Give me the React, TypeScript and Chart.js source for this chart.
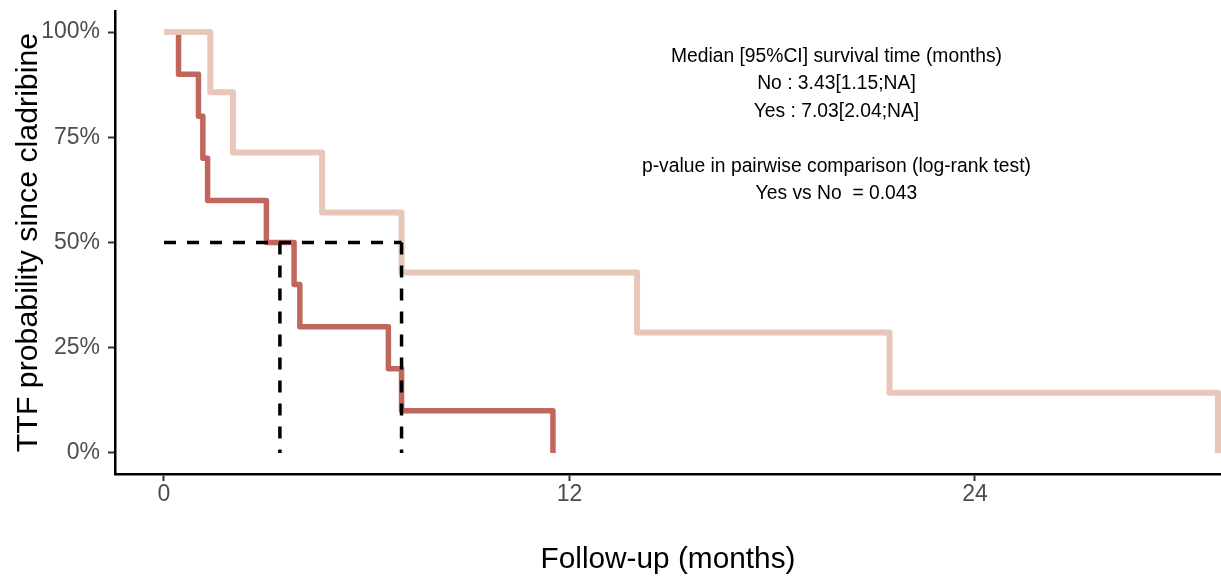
import React, { useEffect, useRef } from 'react';
import { Chart, registerables } from 'chart.js';

Chart.register(...registerables);

// Kaplan-Meier step data (event times in months, survival after the step)
const noTimes = [0, 0.43, 1.02, 1.15, 1.29, 3.03, 3.85, 4.02, 6.64, 7.03, 11.51];
const noSurv = [1, 0.9, 0.8, 0.7, 0.6, 0.5, 0.4, 0.3, 0.2, 0.1, 0];
const yesTimes = [0, 1.37, 2.04, 4.68, 7.03, 14.0, 21.47, 31.19];
const yesSurv = [1, 0.857, 0.714, 0.571, 0.429, 0.286, 0.143, 0];

// Median survival markers
const medianLevel = 0.5;
const medianTimes = [3.43, 7.03];

// Axis ticks
const xTickValues = [0, 12, 24];
const yTickValues = [0, 0.25, 0.5, 0.75, 1];

// Annotation text
const annotationLines = [
  'Median [95%CI] survival time (months)',
  'No : 3.43[1.15;NA]',
  'Yes : 7.03[2.04;NA]',
  '',
  'p-value in pairwise comparison (log-rank test)',
  'Yes vs No  = 0.043',
];
const annotationX = 19.9;
const annotationY = 0.929;

const FONT = '"Liberation Sans", Arial, sans-serif';

const annotationPlugin = {
  id: 'kmAnnotation',
  afterDraw(chart: any) {
    const { ctx, scales } = chart;
    const cx = scales.x.getPixelForValue(annotationX);
    const y0 = scales.y.getPixelForValue(annotationY);
    ctx.save();
    ctx.font = `19.3px ${FONT}`;
    ctx.fillStyle = '#000000';
    ctx.textAlign = 'center';
    ctx.textBaseline = 'alphabetic';
    annotationLines.forEach((t, i) => {
      if (t) ctx.fillText(t, cx, y0 + i * 27.4);
    });
    ctx.restore();
  },
};

export default function App() {
  const ref = useRef<HTMLCanvasElement | null>(null);

  useEffect(() => {
    if (!ref.current) return;
    const noData = noTimes.map((t, i) => ({ x: t, y: noSurv[i] }));
    const yesData = yesTimes.map((t, i) => ({ x: t, y: yesSurv[i] }));
    const maxMedian = Math.max(...medianTimes);
    const dashStyle = {
      borderColor: '#000000',
      borderWidth: 3.5,
      borderDash: [12, 11],
      borderCapStyle: 'butt' as const,
      pointRadius: 0,
      stepped: false,
      fill: false,
    };
    const chart = new Chart(ref.current, {
      type: 'line',
      data: {
        datasets: [
          {
            ...dashStyle,
            label: 'median-h',
            data: [
              { x: 0, y: medianLevel },
              { x: maxMedian, y: medianLevel },
            ],
          },
          ...medianTimes.map((t) => ({
            ...dashStyle,
            label: 'median-v',
            data: [
              { x: t, y: medianLevel },
              { x: t, y: 0 },
            ],
          })),
          {
            label: 'Yes',
            data: yesData,
            borderColor: '#E8C6BA',
            borderWidth: 6,
            stepped: true,
            pointRadius: 0,
            borderJoinStyle: 'round',
            borderCapStyle: 'butt',
            fill: false,
          },
          {
            label: 'No',
            data: noData,
            borderColor: '#C0665C',
            borderWidth: 5.5,
            stepped: true,
            pointRadius: 0,
            borderJoinStyle: 'round',
            borderCapStyle: 'butt',
            fill: false,
          },
        ],
      },
      options: {
        animation: false,
        responsive: false,
        maintainAspectRatio: false,
        layout: { padding: { top: 11, right: 0, left: 0, bottom: 0 } },
        plugins: {
          legend: { display: false },
          tooltip: { enabled: false },
        },
        scales: {
          x: {
            type: 'linear',
            min: -1.45,
            max: 31.28,
            afterBuildTicks: (scale: any) => {
              scale.ticks = xTickValues.map((v) => ({ value: v }));
            },
            afterFit: (scale: any) => {
              scale.height = 105;
              scale.paddingLeft = 0;
              scale.paddingRight = 0;
            },
            grid: {
              drawOnChartArea: false,
              drawTicks: true,
              tickLength: 7,
              tickWidth: 2,
              tickColor: '#333333',
            },
            border: { display: true, color: '#000000', width: 2.5 },
            ticks: {
              color: '#4D4D4D',
              font: { family: FONT, size: 23 },
              padding: 0,
              maxRotation: 0,
              callback: (v: any) => String(v),
            },
            title: {
              display: true,
              text: 'Follow-up (months)',
              color: '#000000',
              font: { family: FONT, size: 29.8 },
              padding: { top: 0, bottom: 1 },
            },
          },
          y: {
            type: 'linear',
            min: -0.05,
            max: 1.05,
            afterBuildTicks: (scale: any) => {
              scale.ticks = yTickValues.map((v) => ({ value: v }));
            },
            afterFit: (scale: any) => {
              scale.width = 115;
              scale.paddingTop = 0;
              scale.paddingBottom = 0;
            },
            grid: {
              drawOnChartArea: false,
              drawTicks: true,
              tickLength: 7,
              tickWidth: 2,
              tickColor: '#333333',
            },
            border: { display: true, color: '#000000', width: 2.5 },
            ticks: {
              color: '#4D4D4D',
              font: { family: FONT, size: 23 },
              padding: 8,
              callback: (v: any) => `${Math.round(Number(v) * 100)}%`,
            },
            title: {
              display: true,
              text: 'TTF probability since cladribine',
              color: '#000000',
              font: { family: FONT, size: 30.3 },
              padding: { top: 10, bottom: 0 },
            },
          },
        },
      },
      plugins: [annotationPlugin],
    });
    return () => chart.destroy();
  }, []);

  return (
    <div style={{ position: 'absolute', left: 0, top: 0, width: 1221, height: 579, background: '#ffffff' }}>
      <canvas ref={ref} width={1221} height={579} style={{ display: 'block' }} />
    </div>
  );
}
